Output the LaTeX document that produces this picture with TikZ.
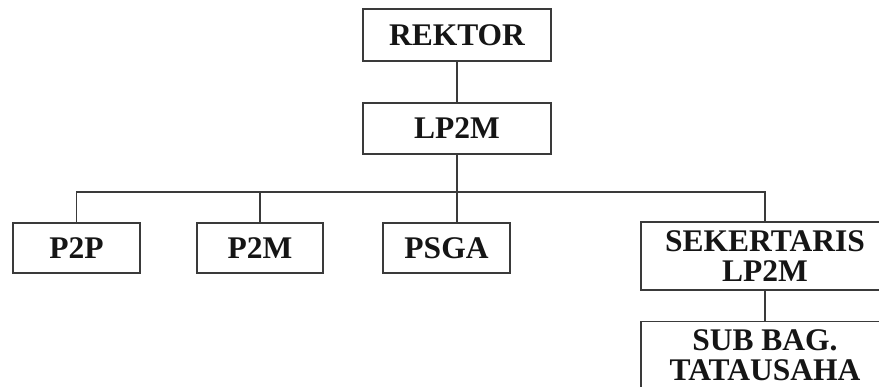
\documentclass[tikz,border=0pt]{standalone}
\usepackage{fontspec}
\setmainfont{Liberation Serif}
\definecolor{linec}{HTML}{3A3A3A}
\definecolor{textc}{HTML}{151515}
\begin{document}
\begin{tikzpicture}[x=1pt,y=-1pt,
  box/.style={draw=linec,line width=1.4pt,inner sep=0pt,align=center,
    text=textc,font=\bfseries\fontsize{31.5}{30}\selectfont},
  conn/.style={draw=linec,line width=1.4pt}]
\clip (0,0) rectangle (879,387);
\fill[white] (0,0) rectangle (879,387);
\node[box,minimum width=188pt,minimum height=52pt] (rektor) at (457,35) {REKTOR};
\node[box,minimum width=188pt,minimum height=51pt] (lp2m) at (457,128.5) {LP2M};
\node[box,minimum width=127pt,minimum height=50pt] (p2p) at (76.5,248) {P2P};
\node[box,minimum width=126pt,minimum height=50pt] (p2m) at (260,248) {P2M};
\node[box,minimum width=127pt,minimum height=50pt] (psga) at (446.5,248) {PSGA};
\node[box,minimum width=248pt,minimum height=68pt] (sek) at (765,256) {SEKERTARIS\\LP2M};
\node[box,minimum width=248pt,minimum height=68pt,anchor=north] (sub) at (765,321) {SUB BAG.\\TATAUSAHA};
\coordinate (bus) at (457,192);
\draw[conn] (rektor.south) -- (lp2m.south |- rektor.south) -- (lp2m.north);
\draw[conn] (lp2m.south) -- (bus);
\draw[conn] (p2p.north) -- (p2p.north |- bus) -- (sek.north |- bus) -- (sek.north);
\draw[conn] (p2m.north |- bus) -- (p2m.north);
\draw[conn] (bus) -- (bus |- psga.north);
\draw[conn] (sek.south) -- (sub.north);
\end{tikzpicture}
\end{document}
